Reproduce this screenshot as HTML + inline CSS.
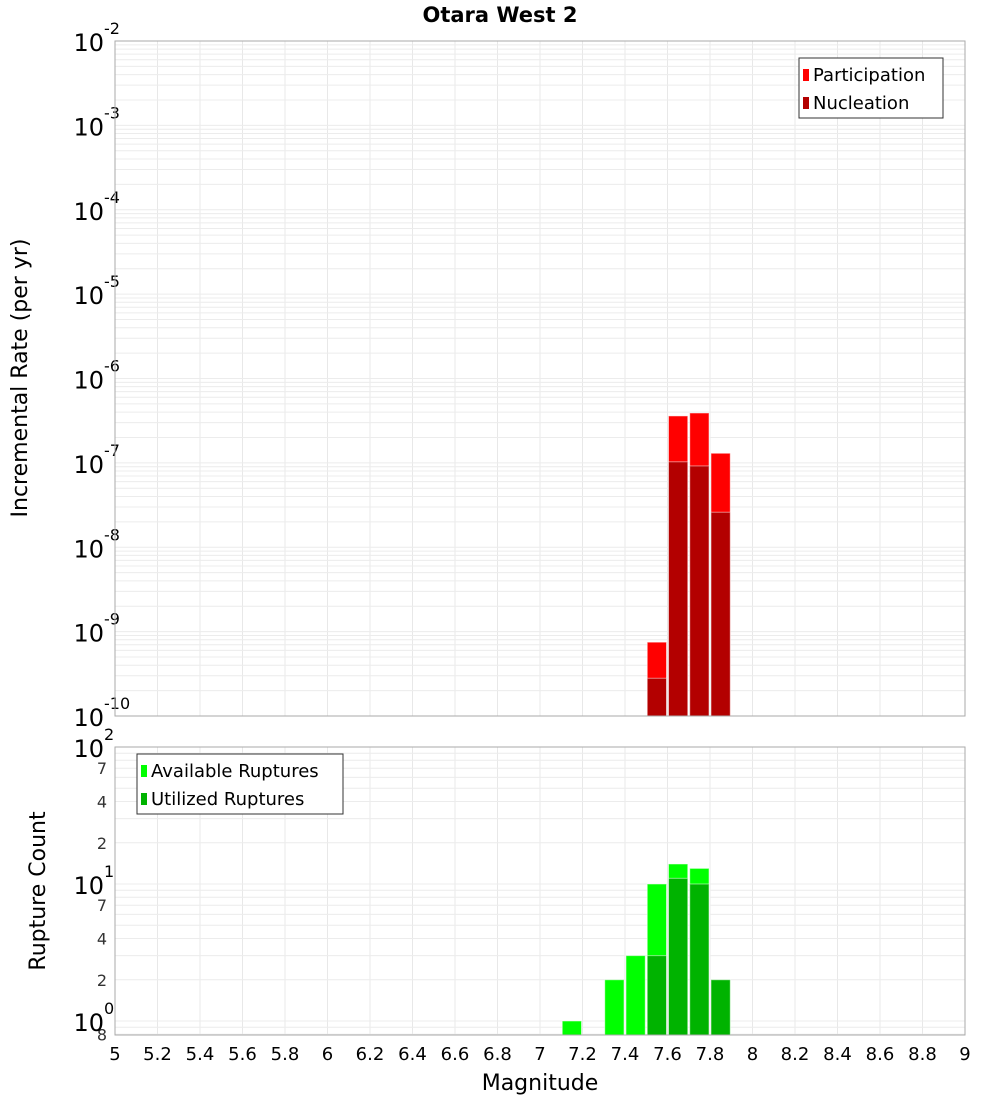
<!DOCTYPE html>
<html><head><meta charset="utf-8"><style>
body{margin:0;background:#fff;font-family:"Liberation Sans","DejaVu Sans",sans-serif}
svg text{font-family:"DejaVu Sans","Liberation Sans",sans-serif}
</style></head><body>
<svg id="c" width="1000" height="1100" xmlns="http://www.w3.org/2000/svg">
<text x="500" y="22" text-anchor="middle" font-size="21" font-weight="bold">Otara West 2</text>
<text transform="translate(27,378) rotate(-90)" text-anchor="middle" font-size="22">Incremental Rate (per yr)</text>
<text transform="translate(45,891) rotate(-90)" text-anchor="middle" font-size="22">Rupture Count</text>
<text x="540" y="1090" text-anchor="middle" font-size="22">Magnitude</text>
<g id="g"></g>
</svg>
<script>
const mags=[7.15,7.25,7.35,7.45,7.55,7.65,7.75,7.85];
const participation=[0,0,0,0,7.5e-10,3.6e-7,3.9e-7,1.3e-7];
const nucleation=[0,0,0,0,2.8e-10,1.03e-7,9.2e-8,2.6e-8];
const available=[1,0,2,3,10,14,13,2];
const utilized=[0,0,0,0,3,11,10,2];
const xTicks=[5,5.2,5.4,5.6,5.8,6,6.2,6.4,6.6,6.8,7,7.2,7.4,7.6,7.8,8,8.2,8.4,8.6,8.8,9];
const NS='http://www.w3.org/2000/svg';
const g=document.getElementById('g');
const L=115,R=965;
const x=m=>L+(m-5)/4*(R-L);
const T1=41,B1=716,yTop=v=>B1-(Math.log10(v)+10)/8*(B1-T1);
const T2=747,B2=1035,yBot=v=>1021-Math.log10(v)*137;
function el(t,a,txt){const e=document.createElementNS(NS,t);for(const k in a)e.setAttribute(k,a[k]);if(txt!==undefined)e.textContent=txt;g.appendChild(e);return e;}
// backgrounds
let r=el('rect',{x:L,y:T1,width:R-L,height:B1-T1,fill:'#fff'});

r=el('rect',{x:L,y:T2,width:R-L,height:B2-T2,fill:'#fff'});

// vertical grid
xTicks.forEach(t=>{
 let l=el('line',{x1:x(t),x2:x(t),y1:T1,y2:B1,stroke:'#e8e8e8'});
 
 l=el('line',{x1:x(t),x2:x(t),y1:T2,y2:B2,stroke:'#e8e8e8'});
 
 const tx=el('text',{x:x(t),y:1060,'text-anchor':'middle','font-size':18},String(t));
 
});
// top horizontal grid
for(let d=-10;d<-2;d++)for(let k=1;k<10;k++){const y=yTop(k*Math.pow(10,d));
 const l=el('line',{x1:L,x2:R,y1:y,y2:y,stroke:'#ececec'});
 }
for(let d=-10;d<=-2;d++){const y=yTop(Math.pow(10,d));
 const t=el('text',{x:104,y:y+10,'text-anchor':'end','font-size':24},'10');
 
 const s=el('text',{x:104,y:y-7,'font-size':16},String(d));
 }
// bottom grid
for(let d=-1;d<2;d++)for(let k=1;k<10;k++){const v=k*Math.pow(10,d);const y=yBot(v);if(y>B2||y<T2)continue;
 const l=el('line',{x1:L,x2:R,y1:y,y2:y,stroke:'#ececec'});
 }
[[0.8,'8'],[2,'2'],[4,'4'],[7,'7'],[20,'2'],[40,'4'],[70,'7']].forEach(([v,s])=>{
 const t=el('text',{x:107,y:yBot(v)+6,'text-anchor':'end','font-size':16,fill:'#333'},s);
 });
[[1,'0'],[10,'1'],[100,'2']].forEach(([v,s])=>{const y=yBot(v);
 const t=el('text',{x:104,y:y+10,'text-anchor':'end','font-size':24},'10');
 
 const e=el('text',{x:104,y:y-7,'font-size':16},s);
 });
// bars
const bw=(R-L)/40;
function bar(m,top,bottom,fill,name){if(!(top<bottom))return;
 const b=el('rect',{x:x(m)-bw/2+1,y:top,width:bw-2,height:bottom-top,fill:fill,stroke:'#fff','stroke-opacity':0.5,'stroke-width':1});
 }
mags.forEach((m,i)=>{
 if(participation[i]>0)bar(m,yTop(participation[i]),B1,'#ff0000','participation-bar');
 if(nucleation[i]>0)bar(m,yTop(nucleation[i]),B1,'#b30000','nucleation-bar');
 if(available[i]>0)bar(m,yBot(available[i]),B2,'#00ff00','available-bar');
 if(utilized[i]>0)bar(m,yBot(utilized[i]),B2,'#00b300','utilized-bar');
});
// frames
r=el('rect',{x:L,y:T1,width:R-L,height:B1-T1,fill:'none',stroke:'#aaa'});

r=el('rect',{x:L,y:T2,width:R-L,height:B2-T2,fill:'none',stroke:'#aaa'});

// legends
function legend(x0,y0,w,items,name){
 const b=el('rect',{x:x0,y:y0,width:w,height:60,fill:'#fff',stroke:'#333'});
 
 items.forEach(([c,lab],i)=>{
  const s=el('rect',{x:x0+4,y:y0+11+i*28,width:6,height:12,fill:c});
  
  const t=el('text',{x:x0+14,y:y0+23+i*28,'font-size':18},lab);
  });}
legend(799,58,144,[['#ff0000','Participation'],['#b30000','Nucleation']],'top-legend');
legend(137,754,206,[['#00ff00','Available Ruptures'],['#00b300','Utilized Ruptures']],'bottom-legend');
</script>
</body></html>
